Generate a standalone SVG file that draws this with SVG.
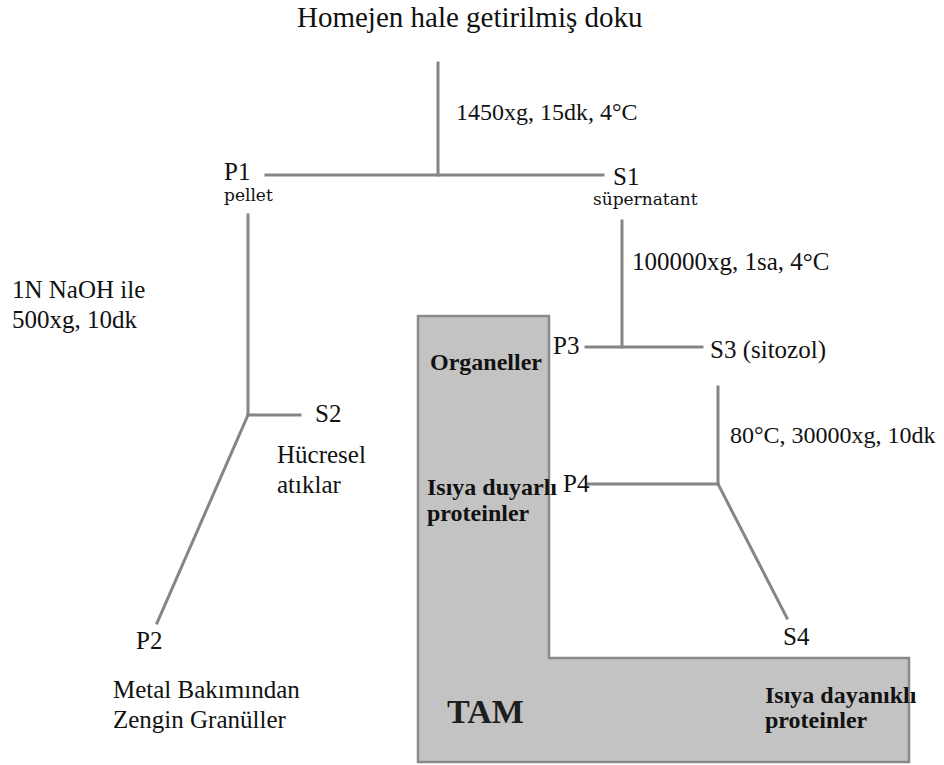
<svg xmlns="http://www.w3.org/2000/svg" width="944" height="765" viewBox="0 0 944 765">
<style>
.t{font-family:"Liberation Serif","Times New Roman",serif;font-size:25px;fill:#111}
.s{font-family:"DejaVu Serif",serif;font-size:17px;fill:#111}
.b{font-family:"Liberation Serif","Times New Roman",serif;font-size:24px;font-weight:bold;fill:#111}
.ln{stroke:#858585;stroke-width:3;fill:none;stroke-linecap:square}
</style>
<rect width="944" height="765" fill="#fff"/>
<g id="tam-region">
<polygon points="418,316 549,316 549,658 909,658 909,762 418,762" fill="#c3c3c3" stroke="#8a8a8a" stroke-width="2.5"/>
<text x="447" y="723" style="font-family:'Liberation Serif','Times New Roman',serif;font-size:34px;font-weight:bold;fill:#1e1e1e">TAM</text>
</g>
<g id="connectors">
<line class="ln" x1="438" y1="63" x2="438" y2="175"/>
<line class="ln" x1="266" y1="175" x2="603" y2="175"/>
<line class="ln" x1="248" y1="215" x2="248" y2="415"/>
<line class="ln" x1="248" y1="415" x2="300" y2="415"/>
<line class="ln" x1="248" y1="415" x2="157" y2="623"/>
<line class="ln" x1="622" y1="221" x2="622" y2="347"/>
<line class="ln" x1="586" y1="347" x2="702" y2="347"/>
<line class="ln" x1="718" y1="387" x2="718" y2="484"/>
<line class="ln" x1="588" y1="484" x2="718" y2="484"/>
<line class="ln" x1="718" y1="484" x2="787" y2="618"/>
</g>
<g id="title"><text class="t" x="297" y="27" style="font-size:29px">Homejen hale getirilmiş doku</text></g>
<g id="step1-label"><text class="t" x="456" y="120" style="font-size:24px">1450xg, 15dk, 4°C</text></g>
<g id="P1"><text class="t" x="224" y="180">P1</text><text class="s" x="224" y="201">pellet</text></g>
<g id="S1"><text class="t" x="613" y="185">S1</text><text class="s" x="593" y="205">süpernatant</text></g>
<g id="step2-label"><text class="t" x="12" y="298">1N NaOH ile</text><text class="t" x="12" y="328">500xg, 10dk</text></g>
<g id="S2"><text class="t" x="315" y="422">S2</text><text class="t" x="277" y="463">Hücresel</text><text class="t" x="277" y="493">atıklar</text></g>
<g id="P2"><text class="t" x="136" y="649">P2</text><text class="t" x="113" y="698">Metal Bakımından</text><text class="t" x="113" y="728">Zengin Granüller</text></g>
<g id="step3-label"><text class="t" x="632" y="270">100000xg, 1sa, 4°C</text></g>
<g id="P3"><text class="t" x="553" y="354">P3</text><text class="b" x="430" y="370">Organeller</text></g>
<g id="S3"><text class="t" x="710" y="358">S3 (sitozol)</text></g>
<g id="step4-label"><text class="t" x="730" y="443" style="font-size:24px">80°C, 30000xg, 10dk</text></g>
<g id="P4"><text class="b" x="427" y="495">Isıya duyarlı</text><text class="b" x="427" y="521">proteinler</text><text class="t" x="563" y="492">P4</text></g>
<g id="S4"><text class="t" x="783" y="645">S4</text><text class="b" x="765" y="703">Isıya dayanıklı</text><text class="b" x="765" y="728">proteinler</text></g>
</svg>
